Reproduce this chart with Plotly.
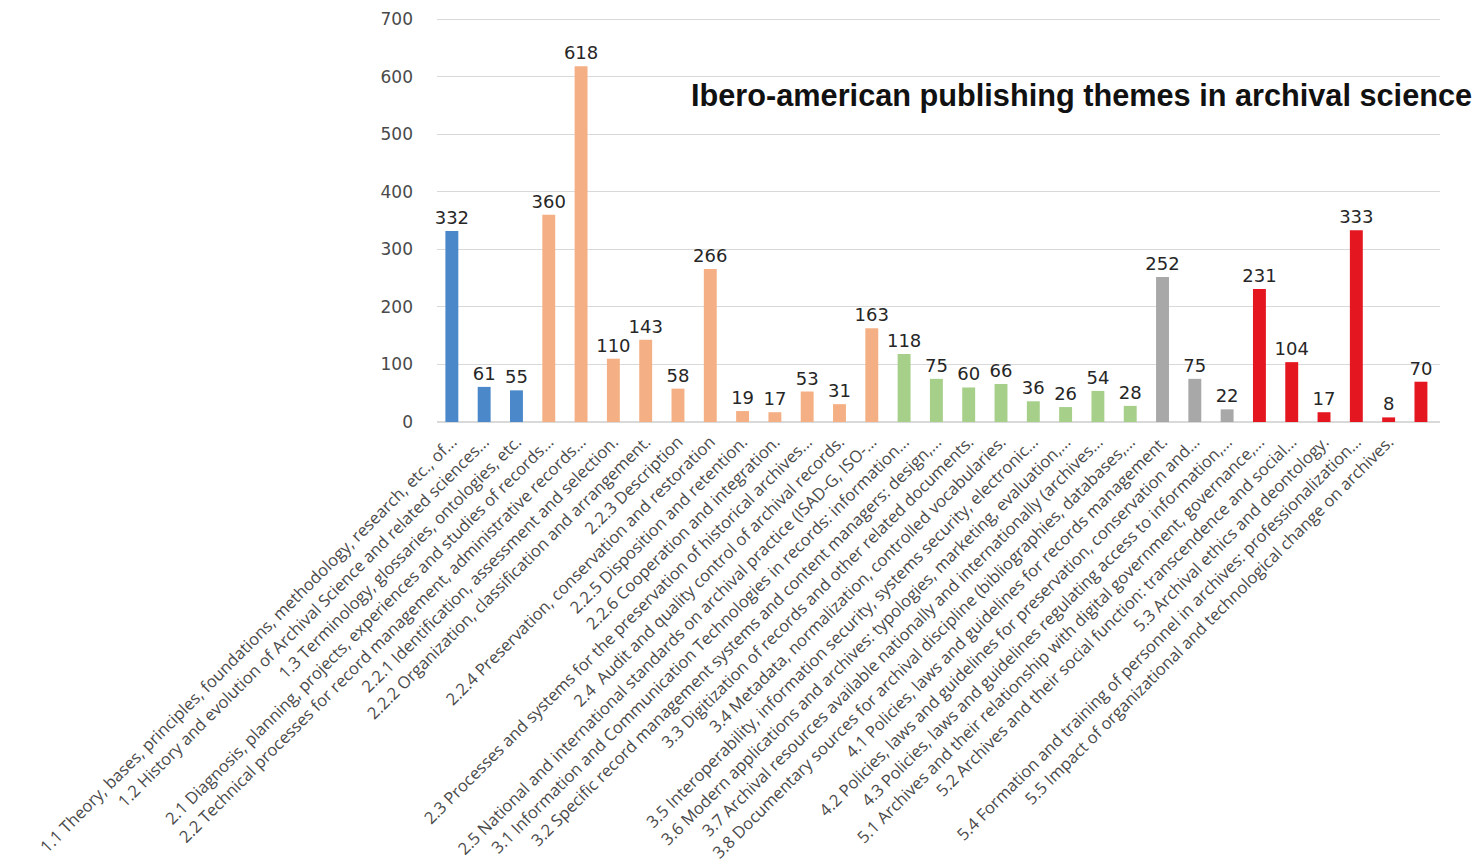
import plotly.graph_objects as go

labels = [
    "1.1 Theory, bases, principles, foundations, methodology, research, etc., of...",
    "1.2 History and evolution of Archival Science and related sciences...",
    "1.3 Terminology, glossaries, ontologies, etc.",
    "2.1 Diagnosis, planning, projects, experiences and studies of records...",
    "2.2 Technical processes for record management, administrative records...",
    "2.2.1 Identification, assessment and selection.",
    "2.2.2 Organization, classification and arrangement.",
    "2.2.3 Description",
    "2.2.4 Preservation, conservation and restoration",
    "2.2.5 Disposition and retention.",
    "2.2.6 Cooperation and integration.",
    "2.3 Processes and systems for the preservation of historical archives...",
    "2.4  Audit and quality control of archival records.",
    "2.5 National and international standards on archival practice (ISAD-G, ISO-...",
    "3.1 Information and Communication Technologies in records: information...",
    "3.2 Specific record management systems and content managers: design,...",
    "3.3 Digitization of records and other related documents.",
    "3.4 Metadata, normalization, controlled vocabularies.",
    "3.5 Interoperability, information security, systems security, electronic...",
    "3.6 Modern applications and archives: typologies, marketing, evaluation,...",
    "3.7 Archival resources available nationally and internationally (archives...",
    "3.8 Documentary sources for archival discipline (bibliographies, databases,...",
    "4.1 Policies, laws and guidelines for records management.",
    "4.2 Policies, laws and guidelines for preservation, conservation and...",
    "4.3 Policies, laws and guidelines regulating access to information,...",
    "5.1 Archives and their relationship with digital government, governance,...",
    "5.2 Archives and their social function: transcendence and social...",
    "5.3 Archival ethics and deontology.",
    "5.4 Formation and training of personnel in archives: professionalization...",
    "5.5 Impact of organizational and technological change on archives.",
    "",
]

values = [332, 61, 55,
          360, 618, 110, 143, 58, 266, 19, 17, 53, 31, 163,
          118, 75, 60, 66, 36, 26, 54, 28,
          252, 75, 22,
          231, 104, 17, 333, 8, 70]

groups = (["1"] * 3 + ["2"] * 11 + ["3"] * 8 + ["4"] * 3 + ["5"] * 6)

group_colors = {"1": "#4A88C9", "2": "#F4B084", "3": "#A6CF8A", "4": "#A8A8A8", "5": "#E4161F"}

title_text = "Ibero-american publishing themes in archival science"

y_ticks = [0, 100, 200, 300, 400, 500, 600, 700]

x = list(range(len(values)))
colors = [group_colors[g] for g in groups]

fig = go.Figure()
fig.add_trace(go.Bar(
    x=x, y=values,
    marker=dict(color=colors, line=dict(width=0)),
    text=[str(v) for v in values],
    textposition="outside",
    constraintext="none",
    textfont=dict(family="DejaVu Sans, sans-serif", size=18, color="#262626"),
    cliponaxis=False,
    width=0.4,
))

fig.update_layout(
    width=1476, height=857,
    margin=dict(l=429, r=44, t=10, b=443),
    paper_bgcolor="white", plot_bgcolor="white",
    showlegend=False,
    xaxis=dict(
        tickmode="array", tickvals=x, ticktext=labels,
        tickangle=-45, range=[-0.46, len(values) - 0.41],
        tickfont=dict(family="Open Sans, sans-serif", size=16.6, color="#4a4a4a"),
        showgrid=False, zeroline=False, showline=False, ticks="",
        ticklabelstandoff=6, automargin=False,
    ),
    yaxis=dict(
        range=[0, 702], tickvals=y_ticks,
        tickfont=dict(family="DejaVu Sans, sans-serif", size=17, color="#4a4a4a"),
        showgrid=True, gridcolor="#D9D9D9", gridwidth=1,
        zeroline=True, zerolinecolor="#D9D9D9", showline=False,
        ticklabelstandoff=23, automargin=False,
    ),
    annotations=[dict(
        text="<b>" + title_text + "</b>",
        xref="paper", yref="paper", x=1.034, y=0.807, xanchor="right", yanchor="middle",
        showarrow=False,
        font=dict(family="Liberation Sans, Arial, sans-serif", size=30.7, color="#111111"),
    )],
)

fig.write_html("out.html")
